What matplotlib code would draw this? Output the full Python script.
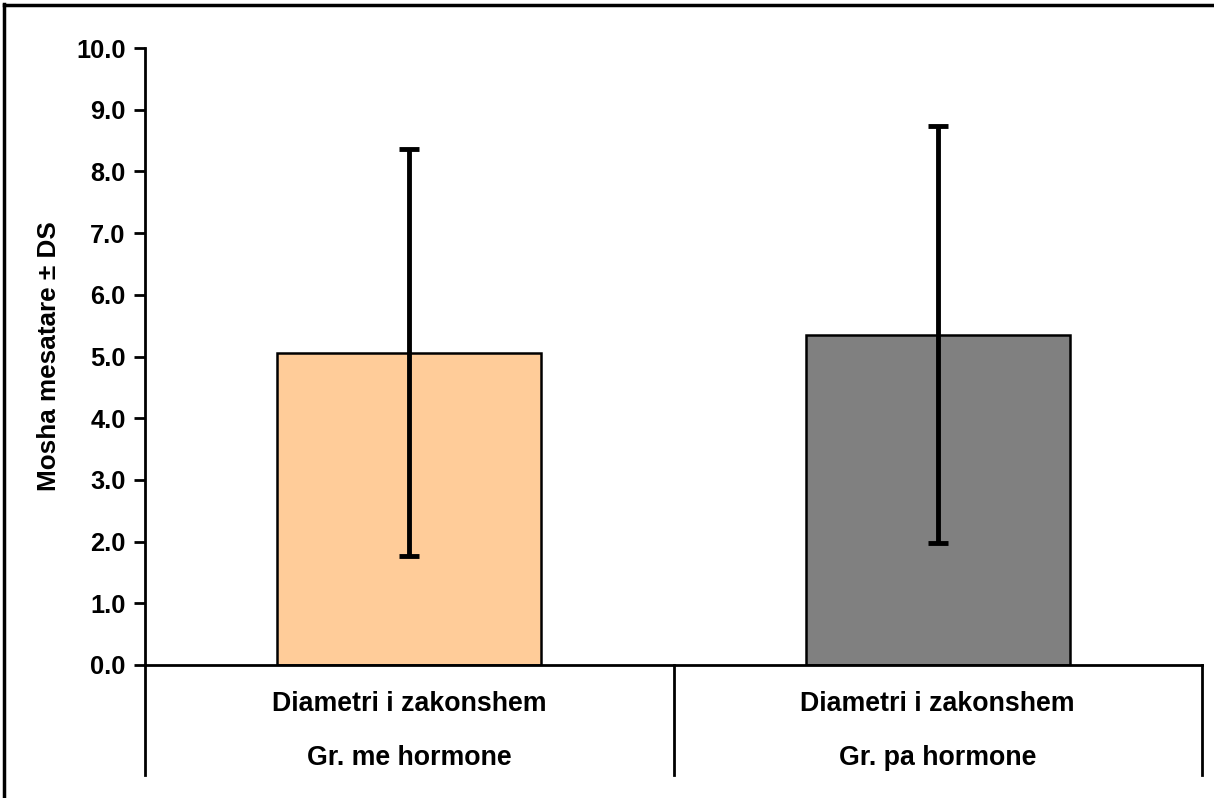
import numpy as np
import matplotlib
matplotlib.use("Agg")
import matplotlib.pyplot as plt
from matplotlib.lines import Line2D

groups = ["Gr. me hormone", "Gr. pa hormone"]
sublabel = "Diametri i zakonshem"
means = [5.06, 5.35]
sds = [3.30, 3.38]
colors = ["#FFCC99", "#808080"]

plt.rcParams['font.family'] = ['Liberation Sans', 'DejaVu Sans']
plt.rcParams['font.weight'] = 'bold'

W, H = 1214, 798
fig = plt.figure(figsize=(W / 100, H / 100), dpi=100)
ax = fig.add_axes([145 / W, 1 - 665 / H, (1202 - 145) / W, (665 - 48) / H])

x = np.arange(len(groups))
ax.bar(x, means, width=0.5, color=colors, edgecolor="black", linewidth=1.8, zorder=2)
ax.errorbar(x, means, yerr=sds, fmt="none", ecolor="black", elinewidth=3.5,
            capsize=7, capthick=3.5, zorder=3)

ax.set_xlim(-0.5, 1.5)
ax.set_ylim(0, 10)
ticks = np.arange(0, 10.5, 1.0)
ax.set_yticks(ticks)
ax.set_yticklabels([f"{v:.1f}" for v in ticks], fontsize=18.3, fontweight="bold")
ax.tick_params(axis="y", direction="out", length=8, width=2, pad=6)
ax.set_xticks([])
for s in ["top", "right"]:
    ax.spines[s].set_visible(False)
ax.spines["left"].set_linewidth(2)
ax.spines["bottom"].set_linewidth(2)
ax.set_ylabel("Mosha mesatare ± DS", fontsize=18.8, fontweight="bold")
ax.yaxis.set_label_coords(-84 / (1202 - 145), 0.5)

# category dividers below the axis
trans = ax.get_xaxis_transform()
for xd in [-0.5, 0.5, 1.5]:
    ax.add_line(Line2D([xd, xd], [0, -110 / 617], transform=trans, color="black",
                       linewidth=2, clip_on=False))
for i, g in enumerate(groups):
    ax.text(i, -39 / 617, sublabel, transform=trans, ha="center", va="center",
            fontsize=19.3, fontweight="bold")
    ax.text(i, -93 / 617, g, transform=trans, ha="center", va="center",
            fontsize=19.3, fontweight="bold")

# outer border (top and left visible)
fig.add_artist(Line2D([4 / W, 4 / W], [0, 1 - 4 / H], color="black", linewidth=2.5))
fig.add_artist(Line2D([4 / W, 1], [1 - 5 / H, 1 - 5 / H], color="black", linewidth=2.5))

fig.savefig("out.png", dpi=100)
